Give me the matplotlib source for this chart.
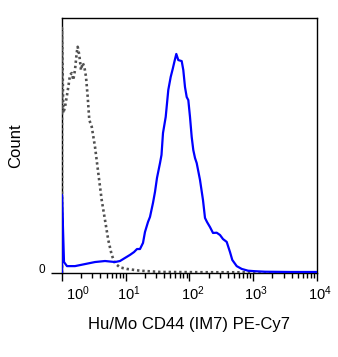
import matplotlib
matplotlib.use("Agg")
import matplotlib.pyplot as plt
from matplotlib.transforms import ScaledTranslation
from matplotlib.ticker import FixedLocator, NullFormatter

plt.rcParams['font.family'] = ['Liberation Sans', 'DejaVu Sans']
plt.rcParams['mathtext.fontset'] = 'custom'
plt.rcParams['mathtext.rm'] = 'Liberation Sans'
plt.rcParams['mathtext.it'] = 'Liberation Sans'

# Stained sample (blue solid): fluorescence vs. % of max count
stained_x = [1.00, 1.00, 1.075, 1.198, 1.599, 2.296, 3.294, 4.727, 6.783, 8.124, 9.73,
             11.66, 13.47, 15.02, 16.73, 18.65, 20.04, 22.34, 24.01, 26.76, 28.76,
             30.92, 34.46, 36.38, 38.40, 42.34, 46.50, 50.72, 54.52, 57.76, 62.08,
             66.73, 75.45, 79.93, 85.0, 90.4, 95.8, 101.8, 108.3, 114.7, 122.0,
             129.7, 146.1, 162.8, 175.0, 188.2, 209.7, 233.7, 267.2, 300.9, 335.4,
             383.2, 431.8, 469.3, 550.1, 658.9, 827.3, 1065, 1529, 3772, 10000]
stained_y = [0.0, 30.6, 4.3, 2.7, 2.7, 3.5, 4.3, 4.7, 4.3, 4.7, 5.9,
             7.1, 8.2, 9.4, 9.4, 11.8, 16.1, 20.0, 22.0, 27.5, 31.8,
             37.3, 43.1, 46.3, 54.9, 61.2, 71.8, 76.9, 80.0, 82.7, 85.9,
             83.5, 83.1, 79.6, 72.9, 69.0, 67.8, 61.2, 53.3, 48.2, 45.1,
             43.1, 36.5, 28.6, 21.6, 20.0, 18.0, 15.7, 15.8, 14.9, 13.3,
             12.2, 8.2, 5.1, 2.7, 1.6, 0.9, 0.7, 0.5, 0.4, 0.4]

# Unstained control (gray dotted)
control_x = [1.00, 1.00, 1.048, 1.115, 1.185, 1.255, 1.335, 1.420, 1.504, 1.599,
             1.701, 1.763, 1.868, 1.987, 2.112, 2.238, 2.379, 2.530, 2.681, 2.924,
             3.294, 3.710, 4.195, 4.727, 5.324, 6.022, 6.783, 8.124, 10.35, 16.73,
             34.46, 146.0, 10000]
control_y = [0.0, 96.1, 62.7, 65.1, 69.0, 72.9, 77.6, 78.4, 75.7, 79.6,
             86.3, 88.7, 85.5, 79.6, 82.4, 80.9, 77.0, 69.1, 60.0, 57.4,
             49.5, 39.2, 28.6, 20.8, 12.9, 7.1, 3.8, 2.2, 1.6, 0.9,
             0.4, 0.3, 0.2]

# Third sample piled at the minimum (red)
red_x = [1.0, 1.0]
red_y = [0.0, 96.1]

x_ticks = [1, 10, 100, 1000, 10000]
x_tick_labels = [r'$10^{0}$', r'$10^{1}$', r'$10^{2}$', r'$10^{3}$', r'$10^{4}$']
minor_ticks = [m * d for d in [1, 10, 100, 1000] for m in range(2, 10)]

fig = plt.figure(figsize=(3.38, 3.57), dpi=100)
ax = fig.add_axes([0.1834, 0.2353, 0.7545, 0.7143])

ax.plot(red_x, red_y, color='#e00000', lw=1.2, zorder=2)
ax.plot(control_x, control_y, color='#505050', lw=1.9, ls=(0, (0.9, 1.1)), zorder=3)
ax.plot(stained_x, stained_y, color='#0000ff', lw=1.6, zorder=4)

ax.set_xscale('log')
ax.set_xlim(1, 10000)
ax.set_ylim(0, 100)

ax.xaxis.set_major_locator(FixedLocator(x_ticks))
ax.set_xticklabels(x_tick_labels, fontsize=10.5)
ax.xaxis.set_minor_locator(FixedLocator(minor_ticks))
ax.xaxis.set_minor_formatter(NullFormatter())
ax.tick_params(axis='x', which='major', length=6, width=1, direction='out', pad=2)
ax.tick_params(axis='x', which='minor', length=3.5, width=1, direction='out')

ax.set_yticks([0])
ax.set_yticklabels(['0'], fontsize=8.5)
ax.tick_params(axis='y', which='major', length=8, width=1, direction='out', pad=4)

for i, lab in enumerate(ax.get_xticklabels()):
    dx = 16 if i == 0 else 3
    lab.set_transform(lab.get_transform() + ScaledTranslation(dx / 100, 0, fig.dpi_scale_trans))
for lab in ax.get_yticklabels():
    lab.set_transform(lab.get_transform() + ScaledTranslation(0, 4 / 100, fig.dpi_scale_trans))

for sp in ax.spines.values():
    sp.set_linewidth(1)
    sp.set_color('black')

ax.set_ylabel('Count', fontsize=12)
ax.yaxis.set_label_coords(-0.152, 0.5)
ax.set_xlabel('Hu/Mo CD44 (IM7) PE-Cy7', fontsize=12, labelpad=10)

fig.savefig('out.png', dpi=100)
